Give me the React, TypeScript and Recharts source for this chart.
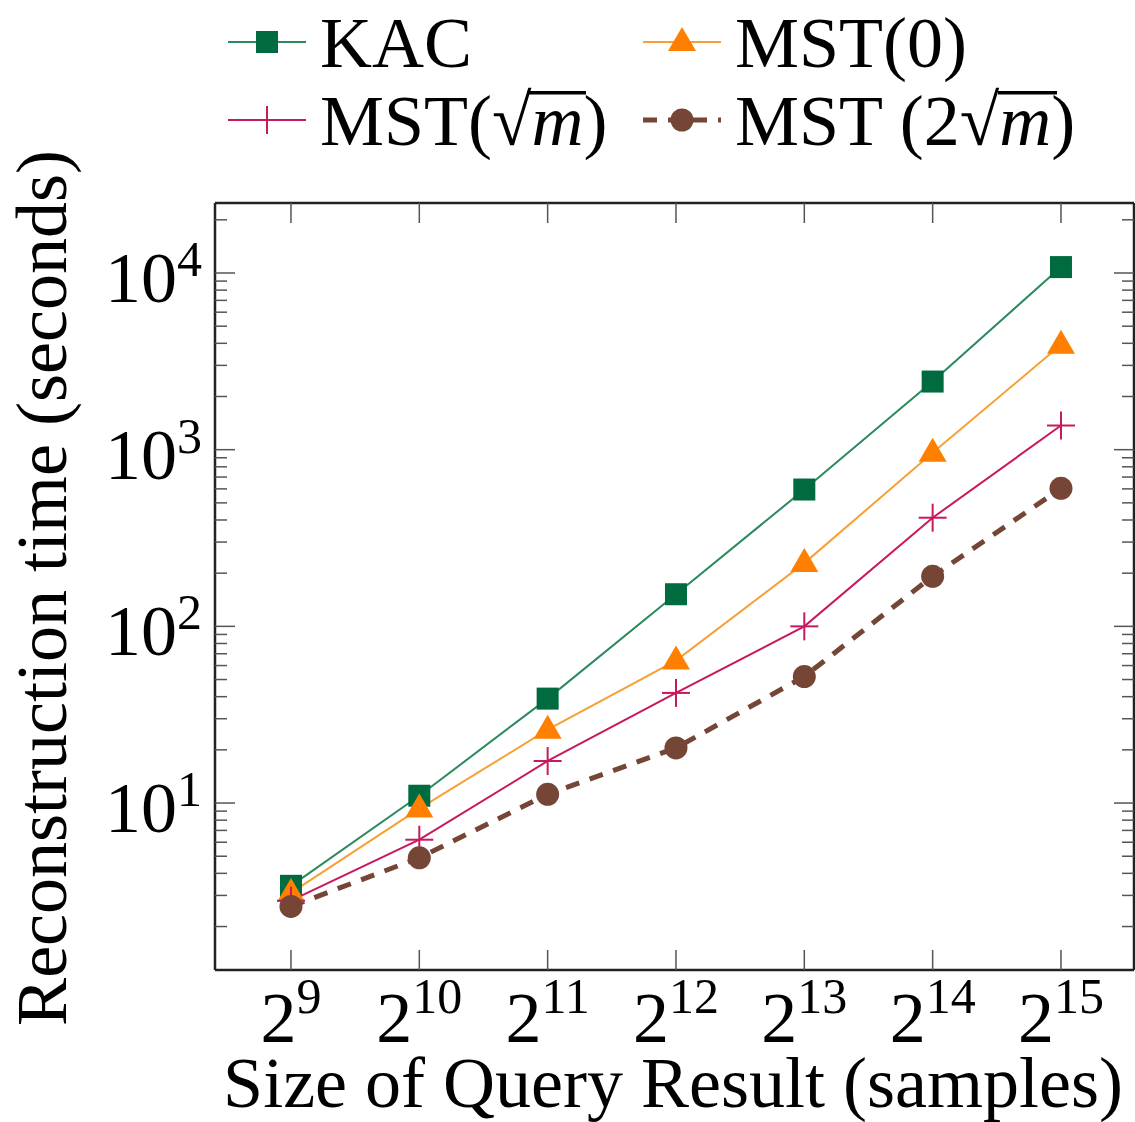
import { LineChart, Line, XAxis, YAxis } from "recharts";

// log2 of the query result size (2^9 ... 2^15)
const sizesLog2 = [9, 10, 11, 12, 13, 14, 15];

// reconstruction time in seconds
const kac = [3.4, 11, 39, 152, 595, 2430, 10800];
const mst0 = [3.1, 9.3, 26, 64, 228, 960, 3920];
const mstSqrt = [2.8, 6.2, 17.3, 42, 100, 412, 1370];
const mst2Sqrt = [2.6, 4.9, 11.2, 20.5, 52, 192, 604];

const yTicks = [
  2, 3, 4, 5, 6, 7, 8, 9, 10, 20, 30, 40, 50, 60, 70, 80, 90, 100, 200, 300,
  400, 500, 600, 700, 800, 900, 1000, 2000, 3000, 4000, 5000, 6000, 7000, 8000,
  9000, 10000, 20000,
];

const data = sizesLog2.map((lg, i) => ({
  lg,
  kac: kac[i],
  mst0: mst0[i],
  mstSqrt: mstSqrt[i],
  mst2Sqrt: mst2Sqrt[i],
}));

const FONT = "'Liberation Serif', 'Times New Roman', serif";
const GREEN = "#006b3f";
const GREEN_LINE = "#2a8a5c";
const ORANGE = "#ff8000";
const ORANGE_LINE = "#f7a035";
const CRIMSON = "#c8185f";
const BROWN = "#754535";

const X_DOMAIN = [8.408, 15.569];
const Y_DOMAIN = [1.135, 24900];

const isMajor = (v: number) =>
  Math.abs(Math.log10(v) - Math.round(Math.log10(v))) < 1e-9;

const LeftTick = (props: any) => {
  const { x, y, payload } = props;
  const v = payload.value;
  const major = isMajor(v);
  return (
    <g>
      <line x1={x} x2={x + (major ? 20 : 12)} y1={y} y2={y} stroke="#555" strokeWidth={1.5} />
      {major && (
        <text x={x - 13} y={y + 29} textAnchor="end" fontFamily={FONT} fontSize={72} fill="#000">
          10
          <tspan dy={-26} fontSize={50}>
            {Math.round(Math.log10(v))}
          </tspan>
        </text>
      )}
    </g>
  );
};

const RightTick = (props: any) => {
  const { x, y, payload } = props;
  const major = isMajor(payload.value);
  return <line x1={x} x2={x - (major ? 20 : 12)} y1={y} y2={y} stroke="#555" strokeWidth={1.5} />;
};

const BottomTick = (props: any) => {
  const { x, y, payload } = props;
  return (
    <g>
      <line x1={x} x2={x} y1={y} y2={y - 20} stroke="#555" strokeWidth={1.5} />
      <text x={x} y={y + 72} textAnchor="middle" fontFamily={FONT} fontSize={72} fill="#000">
        2
        <tspan dy={-29} fontSize={50}>
          {payload.value}
        </tspan>
      </text>
    </g>
  );
};

const TopTick = (props: any) => {
  const { x, y } = props;
  return <line x1={x} x2={x} y1={y} y2={y + 20} stroke="#555" strokeWidth={1.5} />;
};

const square = (cx: number, cy: number, key?: any) => (
  <rect key={key} x={cx - 11} y={cy - 11} width={22} height={22} fill={GREEN} />
);
const triangle = (cx: number, cy: number, key?: any) => (
  <polygon
    key={key}
    points={`${cx},${cy - 15} ${cx + 14},${cy + 9} ${cx - 14},${cy + 9}`}
    fill={ORANGE}
  />
);
const plus = (cx: number, cy: number, key?: any) => (
  <g key={key}>
    <line x1={cx - 14} x2={cx + 14} y1={cy} y2={cy} stroke={CRIMSON} strokeWidth={2} />
    <line x1={cx} x2={cx} y1={cy - 14} y2={cy + 14} stroke={CRIMSON} strokeWidth={2} />
  </g>
);
const circle = (cx: number, cy: number, key?: any) => (
  <circle key={key} cx={cx} cy={cy} r={11.5} fill={BROWN} />
);

const dotOf = (fn: any) => (p: any) => fn(p.cx, p.cy, p.key ?? p.index);

const LegendItem = ({ x, y, color, width, dash, marker, bar, children }: any) => (
  <g>
    <line
      x1={x}
      x2={x + 78}
      y1={y}
      y2={y}
      stroke={color}
      strokeWidth={width}
      strokeDasharray={dash}
    />
    {marker(x + 39, y)}
    <text x={x + 92} y={y + 25} fontFamily={FONT} fontSize={72} fill="#000">
      {children}
    </text>
    {/* radical bar over m */}
    {bar && <rect x={bar[0]} y={y - 29} width={bar[1] - bar[0]} height={3.5} fill="#000" />}
  </g>
);

export default function App() {
  return (
    <div style={{ position: "absolute", left: 0, top: 0, width: 1135, height: 1122, background: "#fff" }}>
      <LineChart
        width={1135}
        height={1122}
        data={data}
        margin={{ top: 0, right: 0, bottom: 0, left: 0 }}
      >
        <XAxis
          xAxisId="b"
          dataKey="lg"
          type="number"
          domain={X_DOMAIN}
          allowDataOverflow
          ticks={sizesLog2}
          interval={0}
          height={152}
          tickSize={0}
          tickMargin={0}
          tickLine={false}
          axisLine={{ stroke: "#222", strokeWidth: 2.5 }}
          tick={<BottomTick />}
        />
        <XAxis
          xAxisId="t"
          orientation="top"
          dataKey="lg"
          type="number"
          domain={X_DOMAIN}
          allowDataOverflow
          ticks={sizesLog2}
          interval={0}
          height={203}
          tickSize={0}
          tickMargin={0}
          tickLine={false}
          axisLine={{ stroke: "#222", strokeWidth: 2.5 }}
          tick={<TopTick />}
        />
        <YAxis
          yAxisId="l"
          scale="log"
          type="number"
          domain={Y_DOMAIN}
          allowDataOverflow
          ticks={yTicks}
          interval={0}
          width={215}
          tickSize={0}
          tickMargin={0}
          tickLine={false}
          axisLine={{ stroke: "#222", strokeWidth: 2.5 }}
          tick={<LeftTick />}
        />
        <YAxis
          yAxisId="r"
          orientation="right"
          scale="log"
          type="number"
          domain={Y_DOMAIN}
          allowDataOverflow
          ticks={yTicks}
          interval={0}
          width={1}
          tickSize={0}
          tickMargin={0}
          tickLine={false}
          axisLine={{ stroke: "#222", strokeWidth: 2.5 }}
          tick={<RightTick />}
        />
        <Line
          xAxisId="b"
          yAxisId="l"
          type="linear"
          dataKey="kac"
          stroke={GREEN_LINE}
          strokeWidth={2}
          dot={dotOf(square)}
          activeDot={false}
          isAnimationActive={false}
        />
        <Line
          xAxisId="b"
          yAxisId="l"
          type="linear"
          dataKey="mst0"
          stroke={ORANGE_LINE}
          strokeWidth={2}
          dot={dotOf(triangle)}
          activeDot={false}
          isAnimationActive={false}
        />
        <Line
          xAxisId="b"
          yAxisId="l"
          type="linear"
          dataKey="mstSqrt"
          stroke={CRIMSON}
          strokeWidth={2}
          dot={dotOf(plus)}
          activeDot={false}
          isAnimationActive={false}
        />
        <Line
          xAxisId="b"
          yAxisId="l"
          type="linear"
          dataKey="mst2Sqrt"
          stroke={BROWN}
          strokeWidth={5}
          strokeDasharray="14 11"
          dot={dotOf(circle)}
          activeDot={false}
          isAnimationActive={false}
        />
      </LineChart>

      {/* legend */}
      <svg width={1135} height={190} style={{ position: "absolute", left: 0, top: 0 }}>
        <LegendItem x={228} y={42} color={GREEN_LINE} width={2} marker={square}>
          KAC
        </LegendItem>
        <LegendItem x={643} y={42} color={ORANGE_LINE} width={2} marker={triangle}>
          MST(0)
        </LegendItem>
        <LegendItem x={228} y={120} color={CRIMSON} width={2} marker={plus} bar={[527, 586]}>
          MST(√<tspan fontStyle="italic">m</tspan>)
        </LegendItem>
        <LegendItem x={643} y={120} color={BROWN} width={5} dash="14 11" marker={circle} bar={[998, 1057]}>
          MST (2√<tspan fontStyle="italic">m</tspan>)
        </LegendItem>
      </svg>

      {/* axis titles */}
      <svg width={1135} height={1122} style={{ position: "absolute", left: 0, top: 0, pointerEvents: "none" }}>
        <text
          transform="translate(66, 588) rotate(-90)"
          textAnchor="middle"
          fontFamily={FONT}
          fontSize={72}
          fill="#000"
        >
          Reconstruction time (seconds)
        </text>
        <text x={673} y={1107} textAnchor="middle" fontFamily={FONT} fontSize={72} fill="#000">
          Size of Query Result (samples)
        </text>
      </svg>
    </div>
  );
}
